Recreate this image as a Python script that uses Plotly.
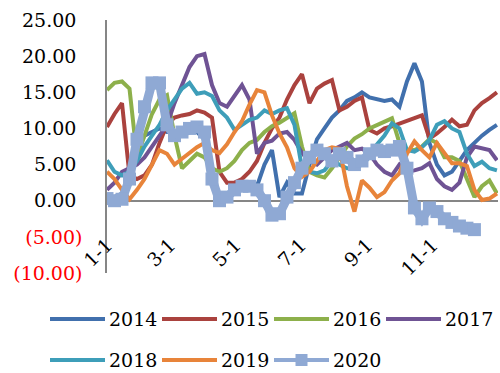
import plotly.graph_objects as go

# Weekly sample points (day of year, starting 1 Jan)
days = list(range(0, 365, 7))

years = ["2014", "2015", "2016", "2017", "2018", "2019", "2020"]

s2014 = [0.5, 0.5, 1.0, 3.0, 7.0, 9.0, 9.5, 10.0, 9.5, 9.5, 9.0, 9.5, 9.5, 8.5,
         2.5, 0.5, 1.0, 1.5, 2.0, 1.5, 2.0, 5.0, 7.0, 0.5, 2.5, 1.0, 1.0, 5.0,
         8.5, 10.0, 11.5, 12.5, 13.8, 14.3, 15.0, 14.3, 14.0, 13.8, 14.0, 13.0,
         16.5, 19.0, 16.5, 8.0, 5.0, 3.5, 4.0, 5.5, 7.0, 8.0, 9.0, 9.8, 10.5]
s2015 = [10.2, 12.0, 13.5, 3.5, 3.0, 3.5, 5.0, 8.0, 10.5, 11.5, 11.8, 12.0, 12.5,
         12.2, 11.5, 4.0, 2.5, 2.5, 3.0, 4.0, 5.5, 8.0, 10.0, 11.5, 14.0, 16.0,
         17.5, 13.5, 15.5, 16.2, 16.7, 12.5, 13.0, 13.8, 14.3, 9.8, 9.3, 10.0,
         10.3, 10.7, 11.0, 11.5, 11.8, 8.6, 9.3, 10.2, 11.2, 10.3, 10.5, 12.5,
         13.5, 14.2, 15.0]
s2016 = [15.3, 16.3, 16.5, 15.5, 6.0, 9.0, 12.0, 14.0, 14.6, 9.0, 4.5, 5.5, 6.5,
         6.0, 4.5, 4.0, 4.5, 5.5, 7.0, 8.0, 8.4, 9.5, 10.3, 10.8, 11.5, 12.1,
         7.5, 4.0, 3.5, 3.2, 4.5, 6.0, 7.5, 8.6, 9.2, 10.0, 10.5, 11.0, 11.4,
         8.0, 7.0, 7.0, 7.5, 8.5, 8.0, 6.0, 6.0, 5.5, 3.0, 0.5, 2.0, 2.8, 1.0]
s2017 = [1.5, 2.5, 4.0, 4.5, 5.0, 6.0, 7.5, 9.0, 10.5, 13.5, 16.0, 18.5, 20.0,
         20.3, 16.0, 13.5, 13.0, 14.5, 16.0, 14.0, 6.5, 8.0, 8.3, 9.3, 9.5, 8.4,
         6.6, 5.5, 5.0, 6.0, 7.0, 7.5, 8.0, 7.0, 7.2, 6.5, 5.0, 4.0, 3.5, 5.0,
         4.0, 4.2, 4.5, 5.2, 3.0, 2.0, 1.5, 2.5, 6.0, 7.5, 7.2, 7.0, 5.6]
s2018 = [5.6, 4.0, 3.5, 4.0, 5.5, 7.5, 9.0, 10.5, 12.5, 14.0, 15.5, 16.3, 14.8,
         15.0, 14.5, 12.5, 11.5, 9.8, 10.5, 11.2, 11.5, 12.5, 12.0, 12.5, 12.8,
         10.5, 4.5, 4.0, 3.8, 4.2, 5.5, 5.0, 4.5, 4.5, 5.0, 6.0, 7.8, 9.0, 10.7,
         10.0, 7.0, 6.8, 7.4, 8.4, 10.5, 11.0, 10.0, 9.5, 6.5, 4.8, 5.4, 4.5, 4.2]
s2019 = [4.0, 3.0, 1.5, 0.2, 1.5, 3.0, 5.0, 7.0, 6.5, 5.0, 5.8, 6.6, 7.4, 8.0,
         7.0, 6.6, 7.8, 9.5, 11.0, 13.3, 15.3, 15.0, 11.8, 9.3, 7.4, 4.5, 3.3,
         4.0, 5.5, 7.0, 7.4, 7.2, 2.0, -1.5, 2.8, 1.8, 0.5, 1.2, 2.8, 3.8, 6.5,
         8.2, 7.0, 6.0, 8.0, 6.5, 5.2, 5.2, 4.8, 1.5, 0.1, 0.3, 1.0]
s2020 = [0.3, 0.0, 0.2, 3.0, 8.5, 13.0, 16.3, 16.3, 10.5, 9.0, 9.5, 10.0, 10.2,
         9.5, 3.0, 0.0, 0.5, 1.5, 2.0, 2.0, 1.5, 0.0, -2.0, -1.8, 0.5, 2.5, 4.5,
         6.0, 7.0, 6.5, 5.5, 6.5, 6.0, 5.0, 5.5, 6.5, 7.0, 6.8, 7.0, 7.5, 4.5,
         -1.0, -2.5, -1.0, -1.5, -2.5, -3.0, -3.5, -3.8, -4.0]

series = [s2014, s2015, s2016, s2017, s2018, s2019, s2020]
colors = ["#4170AD", "#AA423E", "#8DB04B", "#6F5394", "#3E9EB9", "#E8843A", "#8FA9D4"]

month_ticks = [0, 59, 120, 181, 243, 304]
month_labels = ["1-1", "3-1", "5-1", "7-1", "9-1", "11-1"]

y_min, y_max = -10, 25
y_ticks = [-10, -5, 0, 5, 10, 15, 20, 25]


def fmt(v):
    if v < 0:
        return '<span style="color:#FF0000">(%.2f)</span>' % abs(v)
    return "%.2f\u00a0" % v


y_labels = [fmt(v) for v in y_ticks]

FONT = "DejaVu Serif"
FSIZE = 19
AXIS_GREY = "#868686"

fig = go.Figure()
for name, vals, col in zip(years, series, colors):
    is_marked = name == "2020"
    fig.add_trace(go.Scatter(
        x=days[:len(vals)], y=vals, name=name,
        mode="lines+markers" if is_marked else "lines",
        line=dict(color=col, width=9 if is_marked else 4),
        marker=dict(symbol="square", size=13, color=col) if is_marked else None,
        showlegend=False,
    ))

# plot area geometry in pixels
L, R, T, B = 107, 2, 20, 100
W, H = 500, 373
pw, ph = W - L - R, H - T - B


def px_x(x):
    return (x - L) / pw


def px_y(y):
    return (H - B - y) / ph


# legend built from line swatches and text
shapes = []
annotations = []
for i, (name, col) in enumerate(zip(years, colors)):
    row, c = divmod(i, 4)
    yy = 319 + 41 * row
    x0 = 50 + 112 * c
    shapes.append(dict(type="line", xref="paper", yref="paper",
                       x0=px_x(x0), x1=px_x(x0 + 55), y0=px_y(yy), y1=px_y(yy),
                       line=dict(color=col, width=4)))
    if name == "2020":
        shapes.append(dict(type="rect", xref="paper", yref="paper",
                           xsizemode="pixel", ysizemode="pixel",
                           xanchor=px_x(x0 + 27.5), yanchor=px_y(yy),
                           x0=-6, x1=6, y0=-6, y1=6,
                           fillcolor=col, line=dict(width=0)))
    annotations.append(dict(xref="paper", yref="paper", x=px_x(x0 + 57),
                            y=px_y(yy), text=name, showarrow=False,
                            xanchor="left", yanchor="middle",
                            font=dict(family=FONT, size=FSIZE, color="black")))

fig.update_layout(
    width=W, height=H,
    margin=dict(l=L, r=R, t=T, b=B, pad=0),
    paper_bgcolor="white", plot_bgcolor="white",
    showlegend=False,
    shapes=shapes, annotations=annotations,
    xaxis=dict(
        range=[0, 365], showgrid=False, zeroline=False,
        anchor="free", position=(0 - y_min) / (y_max - y_min),
        showline=True, linecolor=AXIS_GREY, linewidth=1.5,
        tickmode="array", tickvals=month_ticks, ticktext=month_labels,
        tickangle=-45, ticks="", ticklabelstandoff=25,
        tickfont=dict(family=FONT, size=FSIZE, color="black"),
        layer="below traces",
    ),
    yaxis=dict(
        range=[y_min, y_max], showgrid=False, zeroline=False,
        showline=True, linecolor=AXIS_GREY, linewidth=1.5,
        tickmode="array", tickvals=y_ticks, ticktext=y_labels,
        ticks="outside", ticklen=19, tickcolor="rgba(0,0,0,0)",
        tickfont=dict(family=FONT, size=FSIZE, color="black"),
        layer="below traces",
    ),
)

fig.write_html("out.html")
